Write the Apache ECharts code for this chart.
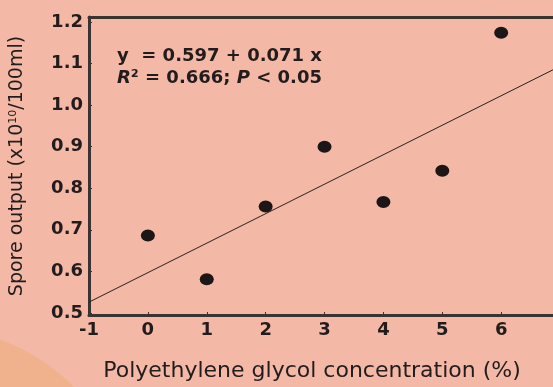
<!DOCTYPE html>
<html>
<head>
<meta charset="utf-8">
<script src="https://cdn.jsdelivr.net/npm/echarts@6/dist/echarts.min.js"></script>
<style>
  html, body { margin: 0; padding: 0; background: #f3b8a6; }
  #main { width: 553px; height: 387px; }
</style>
</head>
<body>
<div id="main"></div>
<script>
// PEG concentration (%) and spore output (x10^10/100ml)
var pegConc = [0, 1, 2, 3, 4, 5, 6];
var sporeOutput = [0.686, 0.581, 0.756, 0.900, 0.767, 0.842, 1.174];
// fitted line end points, y = 0.597 + 0.071 x
var fitX = [-1, 6.88];
var fitY = [0.526, 1.085];
var xTicks = [-1, 0, 1, 2, 3, 4, 5, 6];
var yTicks = [0.5, 0.6, 0.7, 0.8, 0.9, 1.0, 1.1, 1.2];

var axisColor = '#3b3232';
var inkColor = '#1c1616';

var chart = echarts.init(document.getElementById('main'));

var option = {
    backgroundColor: '#f3b8a6',
    animation: false,
    grid: { left: 89, right: 0, top: 17, bottom: 62 },
    graphic: [{ // orange blob, lower left corner
        type: 'circle',
        z: -10,
        silent: true,
        shape: { cx: -70, cy: 530, r: 203 },
        style: { fill: '#efb28c' }
    }, {
        type: 'text',
        left: 117,
        top: 47,
        style: {
            text: '{b|y  = 0.597 + 0.071 x}\n{i|R}{b|² = 0.666; }{i|P}{b| < 0.05}',
            rich: {
                b: { fontFamily: 'DejaVu Sans', fontWeight: 'bold', fontSize: 18, fill: '#231c1c', lineHeight: 22 },
                i: { fontFamily: 'DejaVu Sans', fontWeight: 'bold', fontStyle: 'italic', fontSize: 18, fill: '#231c1c', lineHeight: 22 }
            }
        }
    }],
    xAxis: [{
        type: 'value',
        min: -1,
        max: 6.88,
        position: 'bottom',
        name: 'Polyethylene glycol concentration (%)',
        nameLocation: 'middle',
        nameGap: 45,
        nameTextStyle: { fontFamily: 'DejaVu Sans', fontSize: 22, color: '#231c1c', padding: [0, 18, 0, 0] },
        axisLine: { show: true, onZero: false, lineStyle: { color: axisColor, width: 3 } },
        axisTick: { show: true, inside: true, length: 3, customValues: xTicks, lineStyle: { color: axisColor, width: 1 } },
        axisLabel: {
            customValues: xTicks,
            margin: 6,
            fontFamily: 'DejaVu Sans', fontWeight: 'bold', fontSize: 18, color: '#231c1c'
        },
        splitLine: { show: false }
    }, {
        type: 'value',
        min: -1,
        max: 6.88,
        position: 'top',
        axisLine: { show: true, onZero: false, lineStyle: { color: axisColor, width: 3 } },
        axisTick: { show: false },
        axisLabel: { show: false },
        splitLine: { show: false }
    }],
    yAxis: {
        type: 'value',
        min: 0.495,
        max: 1.212,
        name: '{a|Spore output (x10}{s|10}{a|/100ml)}',
        nameLocation: 'middle',
        nameGap: 62,
        nameTextStyle: {
            rich: {
                a: { fontFamily: 'DejaVu Sans', fontSize: 19, color: '#231c1c' },
                s: { fontFamily: 'DejaVu Sans', fontSize: 11, color: '#231c1c', verticalAlign: 'top', padding: [0, 0, 8, 0] }
            }
        },
        axisLine: { show: true, onZero: false, lineStyle: { color: axisColor, width: 3 } },
        axisTick: { show: true, inside: true, length: 3, customValues: yTicks, lineStyle: { color: axisColor, width: 1 } },
        axisLabel: {
            customValues: yTicks,
            margin: 6,
            formatter: function (v) { return v.toFixed(1); },
            fontFamily: 'DejaVu Sans', fontWeight: 'bold', fontSize: 18, color: '#231c1c'
        },
        splitLine: { show: false }
    },
    series: [{
        name: 'fit',
        type: 'line',
        data: fitX.map(function (x, i) { return [x, fitY[i]]; }),
        showSymbol: false,
        lineStyle: { color: '#2a2020', width: 1 },
        z: 2
    }, {
        name: 'spore',
        type: 'scatter',
        data: pegConc.map(function (x, i) { return [x, sporeOutput[i]]; }),
        symbol: 'circle',
        symbolSize: [14, 12],
        itemStyle: { color: inkColor, opacity: 1 },
        z: 3
    }]
};

chart.setOption(option);
</script>
</body>
</html>
